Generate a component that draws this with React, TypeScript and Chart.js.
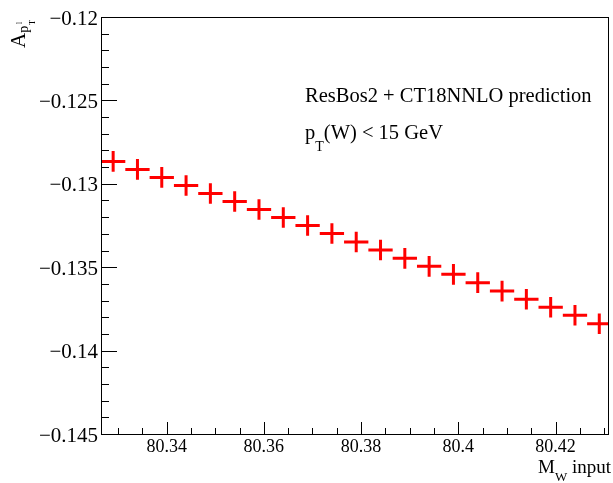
import React, { useEffect, useRef } from "react";
import { Chart, registerables } from "chart.js";

Chart.register(...registerables);

// ---- data ----
const massInput = [
  80.329, 80.334, 80.339, 80.344, 80.349, 80.354, 80.359, 80.364, 80.369, 80.374,
  80.379, 80.384, 80.389, 80.394, 80.399, 80.404, 80.409, 80.414, 80.419, 80.424, 80.429,
];
const asymmetry = [
  -0.12866, -0.12914, -0.12962, -0.1301, -0.13058, -0.13106, -0.13154, -0.13202, -0.1325, -0.13298,
  -0.13349, -0.13397, -0.13447, -0.13495, -0.13543, -0.13593, -0.13643, -0.13692, -0.1374, -0.13788, -0.13839,
];
const asymmetryErr = [
  0.00062, 0.00062, 0.00062, 0.00062, 0.00062, 0.00062, 0.00062, 0.00062, 0.00062, 0.00062,
  0.00062, 0.00062, 0.00062, 0.00062, 0.00062, 0.00062, 0.00062, 0.00062, 0.00062, 0.00062, 0.00062,
];
const massHalfBin = [
  0.0025, 0.0025, 0.0025, 0.0025, 0.0025, 0.0025, 0.0025, 0.0025, 0.0025, 0.0025,
  0.0025, 0.0025, 0.0025, 0.0025, 0.0025, 0.0025, 0.0025, 0.0025, 0.0025, 0.0025, 0.0025,
];
const xRange = [80.3265, 80.431];
const yRange = [-0.145, -0.12];
const xMajorStep = 0.02;
const xMinorStep = 0.005;
const yMajorStep = 0.005;
const yMinorStep = 0.001;
const annotationLine1 = "ResBos2 + CT18NNLO prediction";

const SERIF = "'Liberation Serif', 'DejaVu Serif', serif";

const fmtMinus = (v: number, digits: number) =>
  String(Number(v.toFixed(digits))).replace("-", "\u2212");

const rootStyle = {
  id: "rootStyle",
  afterDatasetsDraw(chart: any) {
    const { ctx, chartArea: a } = chart;
    const xs = chart.scales.x;
    const ys = chart.scales.y;
    ctx.save();
    ctx.beginPath();
    ctx.rect(a.left, a.top, a.right - a.left, a.bottom - a.top);
    ctx.clip();
    ctx.strokeStyle = "#ff0000";
    ctx.lineWidth = 3;
    ctx.lineCap = "butt";
    chart.data.datasets[0].data.forEach((p: any, i: number) => {
      const px = xs.getPixelForValue(p.x);
      const py = ys.getPixelForValue(p.y);
      const xl = xs.getPixelForValue(p.x - massHalfBin[i]);
      const xr = xs.getPixelForValue(p.x + massHalfBin[i]);
      const yt = ys.getPixelForValue(p.y + asymmetryErr[i]);
      const yb = ys.getPixelForValue(p.y - asymmetryErr[i]);
      ctx.beginPath();
      ctx.moveTo(xl, py);
      ctx.lineTo(xr, py);
      ctx.moveTo(px, yt);
      ctx.lineTo(px, yb);
      ctx.stroke();
    });
    ctx.restore();
  },
  afterDraw(chart: any) {
    const { ctx, chartArea: a } = chart;
    const xs = chart.scales.x;
    const ys = chart.scales.y;
    ctx.save();
    // frame
    ctx.strokeStyle = "#000";
    ctx.lineWidth = 1;
    ctx.strokeRect(Math.round(a.left) + 0.5, Math.round(a.top) + 0.5,
      Math.round(a.right - a.left) - 1, Math.round(a.bottom - a.top));
    // y ticks (inward)
    ctx.beginPath();
    const nY = Math.round((yRange[1] - yRange[0]) / yMinorStep);
    for (let i = 0; i <= nY; i++) {
      const v = yRange[0] + i * yMinorStep;
      const py = Math.round(ys.getPixelForValue(v)) + 0.5;
      const len = i % Math.round(yMajorStep / yMinorStep) === 0 ? 16 : 8;
      ctx.moveTo(a.left, py);
      ctx.lineTo(a.left + len, py);
    }
    // x ticks (inward)
    const xStart = Math.ceil(xRange[0] / xMinorStep) * xMinorStep;
    for (let i = 0; ; i++) {
      const v = xStart + i * xMinorStep;
      if (v > xRange[1]) break;
      const px = Math.round(xs.getPixelForValue(v)) + 0.5;
      const r = v / xMajorStep;
      const major = Math.abs(r - Math.round(r)) < 1e-6;
      const len = major ? 12 : 6;
      ctx.moveTo(px, a.bottom);
      ctx.lineTo(px, a.bottom - len);
    }
    ctx.stroke();

    ctx.fillStyle = "#000";
    ctx.textBaseline = "alphabetic";
    ctx.textAlign = "left";

    // annotation
    const f1 = `20.5px ${SERIF}`;
    ctx.font = f1;
    ctx.fillText(annotationLine1, 305, 102);
    let x = 305;
    ctx.fillText("p", x, 138.5);
    x += ctx.measureText("p").width;
    ctx.font = `14px ${SERIF}`;
    ctx.fillText("T", x, 151);
    x += ctx.measureText("T").width;
    ctx.font = f1;
    ctx.fillText("(W) < 15 GeV", x, 138.5);

    // x axis title, right aligned
    const fm = `19px ${SERIF}`;
    const fs = `13px ${SERIF}`;
    ctx.font = fm;
    const wM = ctx.measureText("M").width;
    const wIn = ctx.measureText(" input").width;
    ctx.font = fs;
    const wW = ctx.measureText("W").width;
    let tx = 611 - (wM + wW + wIn);
    ctx.font = fm;
    ctx.fillText("M", tx, 473);
    tx += wM;
    ctx.font = fs;
    ctx.fillText("W", tx, 481);
    tx += wW;
    ctx.font = fm;
    ctx.fillText(" input", tx, 473);

    // y axis title rotated
    ctx.translate(25, 48);
    ctx.rotate(-Math.PI / 2);
    ctx.font = `21px ${SERIF}`;
    ctx.fillText("A", 0, 0);
    let lx = ctx.measureText("A").width;
    ctx.font = `14px ${SERIF}`;
    ctx.fillText("p", lx, 3);
    lx += ctx.measureText("p").width + 0.5;
    ctx.font = `9px ${SERIF}`;
    ctx.fillText("l", lx + 1, -3);
    ctx.fillText("T", lx, 10);
    ctx.restore();
  },
};

export default function App() {
  const ref = useRef<HTMLCanvasElement | null>(null);
  useEffect(() => {
    if (!ref.current) return;
    const chart = new Chart(ref.current, {
      type: "scatter",
      data: {
        datasets: [
          {
            label: "prediction",
            data: massInput.map((m, i) => ({ x: m, y: asymmetry[i] })),
            pointRadius: 0,
            showLine: false,
            borderColor: "#ff0000",
            backgroundColor: "#ff0000",
          },
        ],
      },
      options: {
        animation: false,
        responsive: false,
        devicePixelRatio: 1,
        layout: { padding: { top: 17, right: 4, left: 0, bottom: 0 } },
        plugins: { legend: { display: false }, tooltip: { enabled: false }, title: { display: false } },
        scales: {
          x: {
            type: "linear",
            position: "bottom",
            min: xRange[0],
            max: xRange[1],
            grid: { display: false, drawTicks: false },
            border: { display: false },
            ticks: {
              stepSize: xMajorStep,
              includeBounds: false,
              autoSkip: false,
              maxRotation: 0,
              padding: 2,
              color: "#000",
              font: { family: SERIF, size: 18 },
              callback: (v: any) => fmtMinus(Number(v), 2),
            },
            afterFit: (s: any) => {
              s.height = 49;
            },
          },
          y: {
            type: "linear",
            position: "left",
            min: yRange[0],
            max: yRange[1],
            grid: { display: false, drawTicks: false },
            border: { display: false },
            ticks: {
              stepSize: yMajorStep,
              autoSkip: false,
              padding: 3,
              labelOffset: 2,
              color: "#000",
              font: { family: SERIF, size: 21 },
              callback: (v: any) => fmtMinus(Number(v), 3),
            },
            afterFit: (s: any) => {
              s.width = 101;
            },
          },
        },
      },
      plugins: [rootStyle],
    });
    return () => chart.destroy();
  }, []);
  return (
    <div style={{ position: "fixed", left: 0, top: 0, width: 613, height: 483, background: "#fff" }}>
      <canvas ref={ref} width={613} height={483} />
    </div>
  );
}
